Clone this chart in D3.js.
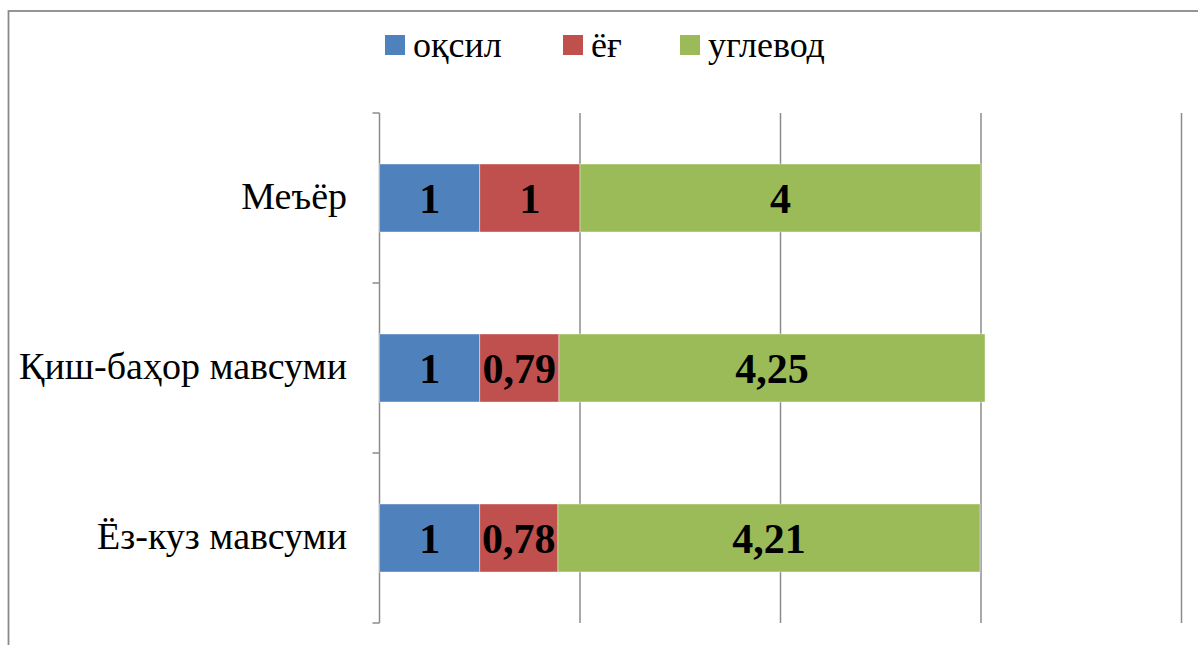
<!DOCTYPE html>
<html>
<head>
<meta charset="utf-8">
<script src="https://cdn.jsdelivr.net/npm/d3@7"></script>
<style>
  body { margin: 0; background: #fff; }
  svg { display: block; }
  svg text { font-family: "Liberation Serif", "Times New Roman", Tinos, serif; }
</style>
</head>
<body>
<div id="chart"></div>
<script>
var categories = ["Меъёр", "Қиш-баҳор мавсуми", "Ёз-куз мавсуми"];
var seriesNames = ["оқсил", "ёғ", "углевод"];
var protein = [1, 1, 1];
var fat = [1, 0.79, 0.78];
var carbs = [4, 4.25, 4.21];
var labels = [["1", "1", "4"], ["1", "0,79", "4,25"], ["1", "0,78", "4,21"]];
var xTicks = [2, 4, 6, 8];
var colors = ["#4F81BD", "#C0504D", "#9BBB59"];

var width = 1198, height = 645;

var svg = d3.select("#chart").append("svg")
    .attr("width", width)
    .attr("height", height);

// outer frame (cut off at right and bottom)
svg.append("rect")
    .attr("x", 8.5).attr("y", 11)
    .attr("width", 1300).attr("height", 800)
    .attr("fill", "none")
    .attr("stroke", "#8a8a8a")
    .attr("stroke-width", 1.8);

var x = d3.scaleLinear().domain([0, 8]).range([379.5, 1181.5]);
var y = d3.scaleBand().domain(categories).range([113, 623])
    .paddingInner(0.6).paddingOuter(0.3);

// rows of stacked values
var rows = categories.map(function(c, i) {
    return { cat: c, "оқсил": protein[i], "ёғ": fat[i], "углевод": carbs[i] };
});
var stack = d3.stack().keys(seriesNames)(rows);

// gridlines
svg.append("g").selectAll("line")
    .data(xTicks)
    .enter().append("line")
    .attr("x1", function(d) { return x(d); })
    .attr("x2", function(d) { return x(d); })
    .attr("y1", 113).attr("y2", 623)
    .attr("stroke", "#8c8c8c")
    .attr("stroke-width", 1.5);

// category axis
var yAxis = svg.append("g");
yAxis.append("line")
    .attr("x1", x(0)).attr("x2", x(0))
    .attr("y1", 113).attr("y2", 623)
    .attr("stroke", "#8c8c8c").attr("stroke-width", 1.5);
var bounds = [113].concat(categories.map(function(c) { return y(c) + y.bandwidth() + y.step() * y.paddingInner() / 2; }));
yAxis.selectAll(".tick")
    .data(bounds)
    .enter().append("line")
    .attr("x1", x(0) - 7).attr("x2", x(0))
    .attr("y1", function(d) { return d; })
    .attr("y2", function(d) { return d; })
    .attr("stroke", "#8c8c8c").attr("stroke-width", 1.5);

yAxis.selectAll("text")
    .data(categories)
    .enter().append("text")
    .attr("x", 347)
    .attr("y", function(d) { return y(d) + y.bandwidth() / 2; })
    .attr("dy", "0.3em")
    .attr("text-anchor", "end")
    .style("font-size", "38px")
    .text(function(d) { return d; });

// bars
var layers = svg.append("g").selectAll("g")
    .data(stack)
    .enter().append("g")
    .attr("fill", function(d, i) { return colors[i]; });

layers.selectAll("rect")
    .data(function(d) { return d; })
    .enter().append("rect")
    .attr("x", function(d) { return x(d[0]); })
    .attr("y", function(d) { return y(d.data.cat); })
    .attr("width", function(d) { return x(d[1]) - x(d[0]); })
    .attr("height", y.bandwidth())
    .attr("stroke", "#ffffff")
    .attr("stroke-opacity", 0.5)
    .attr("stroke-width", 0.8);

// data labels
layers.each(function(layer, li) {
    d3.select(this).selectAll("text")
        .data(layer)
        .enter().append("text")
        .attr("x", function(d) { return (x(d[0]) + x(d[1])) / 2; })
        .attr("y", function(d) { return y(d.data.cat) + y.bandwidth() / 2; })
        .attr("dy", "0.35em")
        .attr("text-anchor", "middle")
        .attr("fill", "#000")
        .style("font-weight", "bold")
        .style("font-size", "42px")
        .text(function(d, i) { return labels[i][li]; });
});

// legend
var legendX = [385, 563, 680];
var legend = svg.append("g").selectAll("g")
    .data(seriesNames)
    .enter().append("g")
    .attr("transform", function(d, i) { return "translate(" + legendX[i] + ",35)"; });
legend.append("rect")
    .attr("width", 20).attr("height", 20)
    .attr("fill", function(d, i) { return colors[i]; });
legend.append("text")
    .attr("x", 28).attr("y", 22)
    .style("font-size", "36px")
    .text(function(d) { return d; });
</script>
</body>
</html>
